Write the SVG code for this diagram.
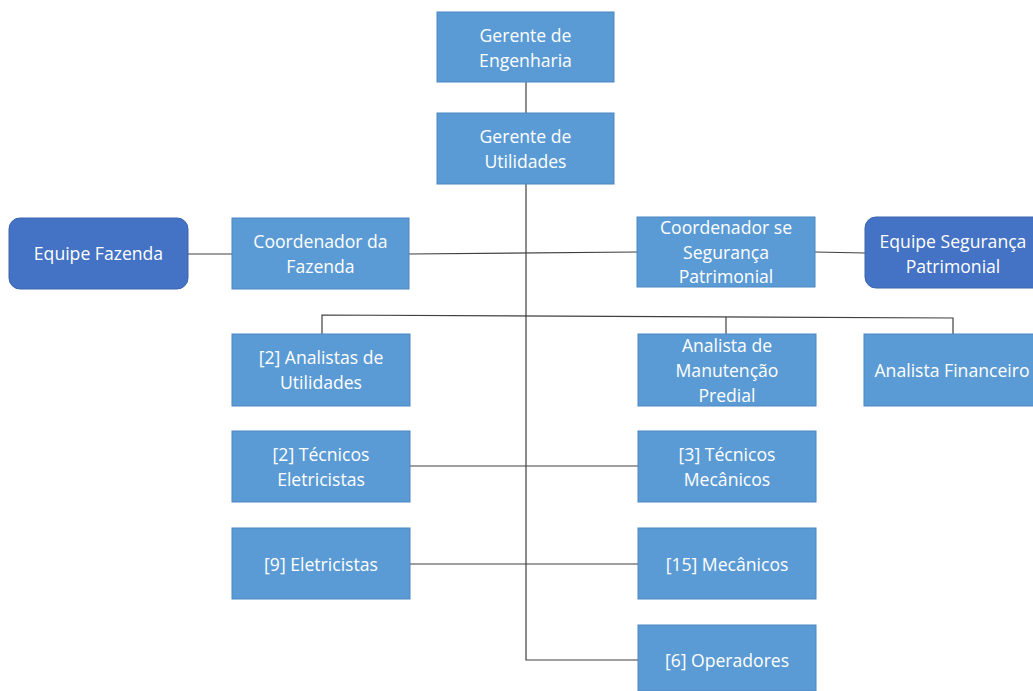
<svg xmlns="http://www.w3.org/2000/svg" width="1033" height="691" viewBox="0 0 1033 691">
  <style>
    .box { fill: #5B9BD5; stroke: #4A87C2; stroke-width: 1; }
    .team { fill: #4472C4; stroke: #3A64AE; stroke-width: 1; }
    .lbl { font-family: "Open Sans", "Noto Sans", sans-serif; font-size: 17.6px; fill: #FFFFFF; text-anchor: middle; dominant-baseline: central; }
    .link { stroke: #404040; stroke-width: 1.2; fill: none; }
  </style>
  <rect width="1033" height="691" fill="#FFFFFF"/>

  <!-- connectors -->
  <g id="connectors">
    <line class="link" x1="526" y1="82" x2="526" y2="113"/>
    <polyline class="link" points="526,184 526,660 638,660"/>
    <line class="link" x1="188" y1="254" x2="232" y2="254"/>
    <line class="link" x1="409" y1="254" x2="637" y2="252"/>
    <line class="link" x1="815" y1="252" x2="865" y2="253"/>
    <polyline class="link" points="322,334 322,315 953,318 953,334"/>
    <line class="link" x1="726" y1="317" x2="726" y2="334"/>
    <line class="link" x1="410" y1="466" x2="638" y2="466"/>
    <line class="link" x1="410" y1="564" x2="638" y2="564"/>
  </g>

  <g id="gerente-engenharia">
    <rect class="box" x="437" y="12" width="177" height="70"/>
    <text class="lbl" x="525.5" y="35">Gerente de</text>
    <text class="lbl" x="525.5" y="60">Engenharia</text>
  </g>

  <g id="gerente-utilidades">
    <rect class="box" x="437" y="113" width="177" height="71"/>
    <text class="lbl" x="525.5" y="136">Gerente de</text>
    <text class="lbl" x="525.5" y="161">Utilidades</text>
  </g>

  <g id="equipe-fazenda">
    <rect class="team" x="9" y="218" width="179" height="71" rx="11"/>
    <text class="lbl" x="98.5" y="253">Equipe Fazenda</text>
  </g>

  <g id="coordenador-fazenda">
    <rect class="box" x="232" y="218" width="177" height="71"/>
    <text class="lbl" x="320.5" y="241">Coordenador da</text>
    <text class="lbl" x="320.5" y="266">Fazenda</text>
  </g>

  <g id="coordenador-seguranca">
    <rect class="box" x="637" y="217" width="178" height="70"/>
    <text class="lbl" x="726" y="227">Coordenador se</text>
    <text class="lbl" x="726" y="252">Segurança</text>
    <text class="lbl" x="726" y="276">Patrimonial</text>
  </g>

  <g id="equipe-seguranca">
    <rect class="team" x="865" y="217" width="180" height="71" rx="11"/>
    <text class="lbl" x="953" y="241">Equipe Segurança</text>
    <text class="lbl" x="953" y="266">Patrimonial</text>
  </g>

  <g id="analistas-utilidades">
    <rect class="box" x="232" y="334" width="178" height="72"/>
    <text class="lbl" x="321" y="357">[2] Analistas de</text>
    <text class="lbl" x="321" y="382">Utilidades</text>
  </g>

  <g id="analista-manutencao">
    <rect class="box" x="638" y="334" width="178" height="72"/>
    <text class="lbl" x="727" y="345">Analista de</text>
    <text class="lbl" x="727" y="370">Manutenção</text>
    <text class="lbl" x="727" y="395">Predial</text>
  </g>

  <g id="analista-financeiro">
    <rect class="box" x="864" y="334" width="180" height="72"/>
    <text class="lbl" x="952" y="370">Analista Financeiro</text>
  </g>

  <g id="tecnicos-eletricistas">
    <rect class="box" x="232" y="431" width="178" height="71"/>
    <text class="lbl" x="321" y="454">[2] Técnicos</text>
    <text class="lbl" x="321" y="479">Eletricistas</text>
  </g>

  <g id="tecnicos-mecanicos">
    <rect class="box" x="638" y="431" width="178" height="71"/>
    <text class="lbl" x="727" y="454">[3] Técnicos</text>
    <text class="lbl" x="727" y="479">Mecânicos</text>
  </g>

  <g id="eletricistas">
    <rect class="box" x="232" y="528" width="178" height="71"/>
    <text class="lbl" x="321" y="564">[9] Eletricistas</text>
  </g>

  <g id="mecanicos">
    <rect class="box" x="638" y="528" width="178" height="71"/>
    <text class="lbl" x="727" y="564">[15] Mecânicos</text>
  </g>

  <g id="operadores">
    <rect class="box" x="638" y="625" width="178" height="66"/>
    <text class="lbl" x="727" y="660">[6] Operadores</text>
  </g>
</svg>
